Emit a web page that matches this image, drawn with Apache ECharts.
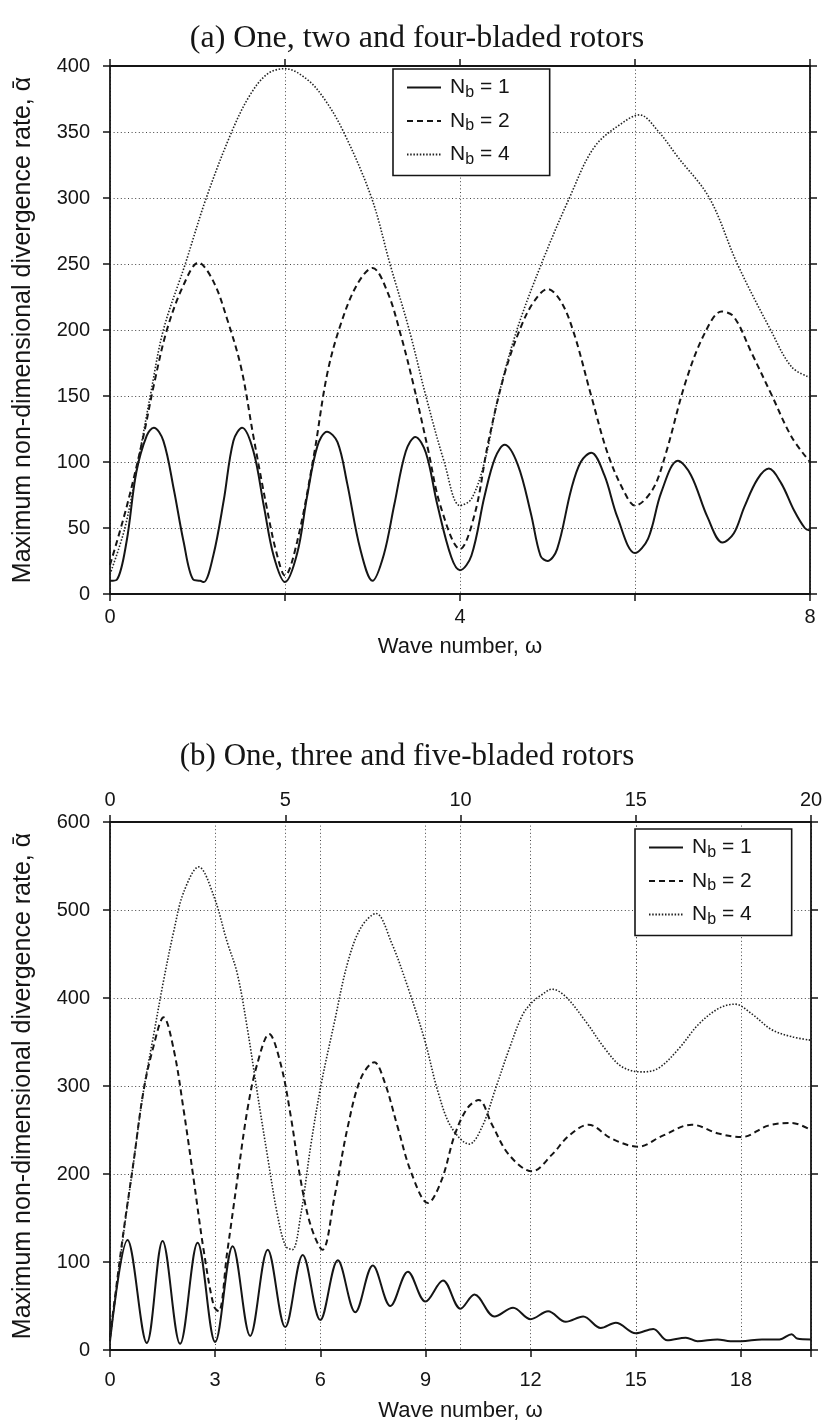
<!DOCTYPE html>
<html>
<head>
<meta charset="utf-8">
<script src="https://cdn.jsdelivr.net/npm/echarts@6/dist/echarts.min.js"></script>
<style>
html,body{margin:0;padding:0;background:#fff;}
#c{width:826px;height:1426px;}
</style>
</head>
<body>
<div id="c"></div>
<script>
// ---------- Chart (a): one, two and four-bladed rotors ----------
const aX1 = [0,0.08,0.19,0.3,0.42,0.5,0.61,0.73,0.84,0.95,1.03,1.07,1.18,1.3,1.41,1.51,1.64,1.76,1.87,2.0,2.14,2.25,2.37,2.48,2.6,2.71,2.86,3.0,3.13,3.25,3.38,3.49,3.61,3.74,3.9,4.0,4.13,4.28,4.4,4.51,4.66,4.81,4.92,5.0,5.11,5.27,5.38,5.5,5.65,5.8,6.0,6.15,6.3,6.49,6.64,6.83,7.0,7.13,7.25,7.4,7.53,7.67,7.82,7.94,8.0];
const aY1 = [10,11,40,92,120,126,116,79,40,11,10,9,29,71,116,126,108,66,29,9,31,73,112,123,115,84,34,10,30,68,108,119,107,68,28,18,29,74,103,113,98,61,29,25,34,79,100,107,90,58,31,42,77,101,90,58,39,46,66,87,95,84,63,50,48];
const aX2 = [0,0.19,0.38,0.5,0.65,0.84,1.01,1.18,1.34,1.5,1.64,1.79,1.9,2.0,2.14,2.33,2.48,2.63,2.82,3.0,3.17,3.32,3.47,3.63,3.78,4.0,4.17,4.32,4.51,4.7,4.85,5.0,5.15,5.3,5.5,5.69,5.88,6.0,6.2,6.35,6.58,6.8,6.99,7.13,7.33,7.56,7.79,8.0];
const aY2 = [22,66,119,158,200,234,251,237,208,171,119,66,32,14,40,105,166,203,234,247,229,197,158,111,66,34,61,114,167,203,222,231,222,198,150,106,77,67,79,106,161,198,214,210,183,151,119,100];
const aX4 = [0,0.17,0.32,0.46,0.61,0.86,1.1,1.39,1.6,1.8,2.0,2.25,2.45,2.67,2.99,3.2,3.42,3.61,3.82,4.0,4.13,4.28,4.44,4.65,4.93,5.25,5.54,5.88,6.05,6.26,6.49,6.85,7.17,7.55,7.79,8.0];
const aY4 = [15,50,100,150,200,250,300,350,378,394,398,390,375,350,300,250,200,150,100,67,72,100,150,200,250,300,339,358,363,351,331,300,250,200,172,164];

// ---------- Chart (b): one, three and five-bladed rotors ----------
const bX1 = [0,0.5,1.05,1.5,2.0,2.5,3.0,3.5,4.0,4.5,5.0,5.5,6.0,6.5,7.0,7.5,8.0,8.5,9.0,9.5,10.0,10.4,10.97,11.5,12.0,12.5,13.0,13.5,14.0,14.43,15.0,15.5,15.9,16.43,16.76,17.33,17.7,18.0,18.6,19.1,19.45,19.6,20.0];
const bY1 = [10,125,8,124,7,122,9,118,16,114,26,108,34,102,43,96,50,89,55,79,47,63,38,48,35,44,32,38,25,31,19,24,11,14,10,12,10,10,12,12,18,13,12];
const bX2 = [0,0.38,0.67,0.95,1.24,1.53,1.82,2.1,2.39,2.67,2.96,3.1,3.34,3.63,3.92,4.2,4.54,4.87,5.16,5.44,5.73,6.06,6.4,6.78,7.16,7.54,7.83,8.21,8.6,9.07,9.46,9.84,10.2,10.52,10.9,11.38,12.04,12.61,13.08,13.65,14.32,15.08,15.74,16.6,17.36,18.02,18.78,19.45,20.0];
const bY2 = [15,133,213,293,345,378,341,273,193,114,50,44,110,193,273,325,359,325,265,193,141,114,173,253,309,327,305,253,201,167,193,245,275,284,256,222,203,222,243,256,240,231,243,256,246,242,255,258,250];
const bX4 = [0,0.38,0.67,0.95,1.24,1.53,1.82,2.1,2.53,2.96,3.34,3.63,3.92,4.2,4.49,4.78,5.01,5.2,5.44,5.73,6.02,6.4,6.78,7.16,7.59,8.02,8.5,8.98,9.36,9.74,10.25,10.62,11.0,11.38,11.76,12.04,12.33,12.61,12.99,13.56,14.13,14.6,15.17,15.64,16.22,16.79,17.36,17.83,18.31,18.88,19.45,20.0];
const bY4 = [12,130,213,293,357,420,476,520,549,516,464,428,365,293,221,153,118,114,153,233,301,372,440,480,496,464,412,352,293,253,234,254,297,341,380,395,404,410,402,374,342,322,316,320,342,370,388,393,382,364,356,352];

const seriesNames = ['Nb1','Nb2','Nb4'];
const legendLabels = {Nb1:'1', Nb2:'2', Nb4:'4'};
const titleA = '(a) One, two and four-bladed rotors';
const titleB = '(b) One, three and five-bladed rotors';
const yName = 'Maximum non-dimensional divergence rate, \u1FB1';
const xName = 'Wave number, \u03C9';

function zip(xs, ys){ return xs.map((x,i)=>[x, ys[i]]); }

const FONT = 'Liberation Sans, Arial, sans-serif';
const SERIF = 'Liberation Serif, Times New Roman, serif';
const INK = '#151515';
const styles = {
  Nb1: {color: INK, width: 2, type: 'solid'},
  Nb2: {color: INK, width: 2, type: [6,4]},
  Nb4: {color: '#222', width: 1.6, type: [1.5,1.7]}
};
const gridLine = {show:true, lineStyle:{color:'#444', width:1, type:[1,2.6]}};
const axisLine = {show:true, onZero:false, lineStyle:{color:INK, width:1.8}};
const tick = {show:true, inside:false, length:7, lineStyle:{color:INK, width:1.5}};
const lab = {fontSize:20, color:INK, fontFamily:FONT};

function mkSeries(name, data, xi, yi){
  return {name, type:'line', xAxisIndex:xi, yAxisIndex:yi, data, showSymbol:false, symbol:'none',
    smooth:0.35, lineStyle: styles[name], itemStyle:{color:INK}, z:3};
}

function mkLegend(left, top){
  return {
    left, top, orient:'vertical', data: seriesNames,
    backgroundColor:'#fff', borderColor: INK, borderWidth:1.6,
    padding:[8,40,8,13], itemGap:10, itemWidth:34, itemHeight:14,
    itemStyle:{opacity:0, borderWidth:0},
    formatter: n => 'N{sub|b} = ' + legendLabels[n],
    textStyle:{fontSize:21, color:INK, fontFamily:FONT, padding:[0,0,0,4],
      rich:{sub:{fontSize:16, fontFamily:FONT, color:INK, verticalAlign:'bottom', padding:[10,0,0,0]}}}
  };
}

const option = {
  animation:false,
  backgroundColor:'#fff',
  title:[
    {text:titleA, left:412, top:18, textAlign:'center', textStyle:{fontFamily:SERIF, fontWeight:'normal', fontSize:32, color:INK}},
    {text:titleB, left:402, top:736, textAlign:'center', textStyle:{fontFamily:SERIF, fontWeight:'normal', fontSize:31, color:INK}}
  ],
  legend:[ mkLegend(393, 69), mkLegend(635, 829) ],
  grid:[
    {left:110, top:66, width:700, height:528},
    {left:110, top:822, width:701, height:528}
  ],
  xAxis:[
    {gridIndex:0, type:'value', min:0, max:8, interval:2, position:'bottom',
     axisLine, axisTick:tick, splitLine:gridLine,
     axisLabel:{...lab, margin:13, formatter:v=> (v%4===0? String(v):'')},
     name:xName, nameLocation:'middle', nameGap:42, nameTextStyle:{...lab, fontSize:22}},
    {gridIndex:0, type:'value', min:0, max:8, interval:2, position:'top',
     axisLine, axisTick:tick, splitLine:{show:false}, axisLabel:{show:false}},
    {gridIndex:1, type:'value', min:0, max:20, interval:3, position:'bottom',
     axisLine, axisTick:tick, splitLine:gridLine,
     axisLabel:{...lab, margin:20, formatter:v=> (v%3===0 && v<20 ? String(v):'')},
     name:xName, nameLocation:'middle', nameGap:50, nameTextStyle:{...lab, fontSize:22}},
    {gridIndex:1, type:'value', min:0, max:20, interval:5, position:'top',
     axisLine, axisTick:tick, splitLine:gridLine,
     axisLabel:{...lab, margin:12}}
  ],
  yAxis:[
    {gridIndex:0, type:'value', min:0, max:400, interval:50, position:'left',
     axisLine, axisTick:tick, splitLine:gridLine, axisLabel:{...lab, margin:20},
     name:yName, nameLocation:'middle', nameGap:74, nameTextStyle:{...lab, fontSize:25}},
    {gridIndex:0, type:'value', min:0, max:400, interval:50, position:'right',
     axisLine, axisTick:tick, splitLine:{show:false}, axisLabel:{show:false}},
    {gridIndex:1, type:'value', min:0, max:600, interval:100, position:'left',
     axisLine, axisTick:tick, splitLine:gridLine, axisLabel:{...lab, margin:20},
     name:yName, nameLocation:'middle', nameGap:74, nameTextStyle:{...lab, fontSize:25}},
    {gridIndex:1, type:'value', min:0, max:600, interval:100, position:'right',
     axisLine, axisTick:tick, splitLine:{show:false}, axisLabel:{show:false}}
  ],
  series:[
    mkSeries('Nb1', zip(aX1,aY1), 0, 0),
    mkSeries('Nb2', zip(aX2,aY2), 0, 0),
    mkSeries('Nb4', zip(aX4,aY4), 0, 0),
    mkSeries('Nb1', zip(bX1,bY1), 2, 2),
    mkSeries('Nb2', zip(bX2,bY2), 2, 2),
    mkSeries('Nb4', zip(bX4,bY4), 2, 2)
  ]
};
const chart = echarts.init(document.getElementById('c'), null, {renderer:'canvas'});
chart.setOption(option);
</script>
</body>
</html>
